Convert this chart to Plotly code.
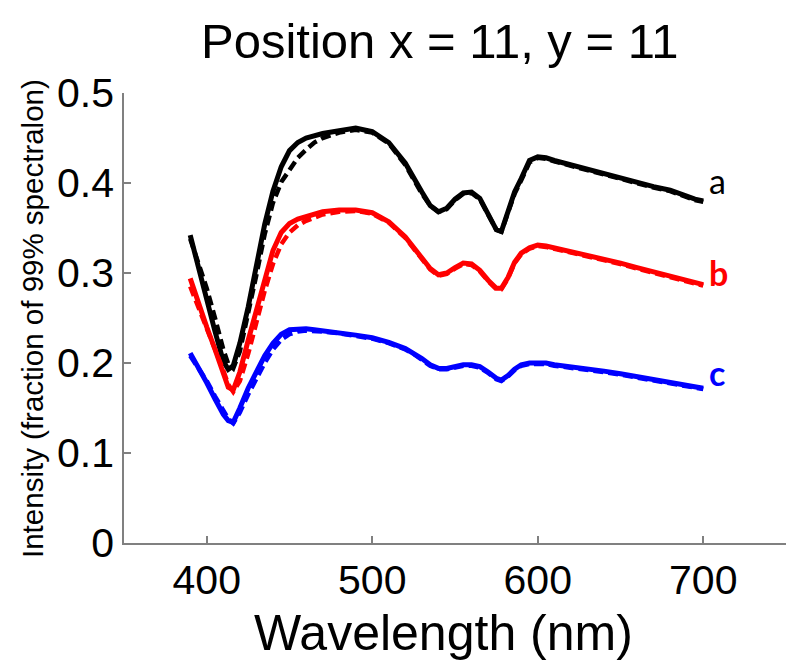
import plotly.graph_objects as go

wavelength = [390, 395, 400, 405, 410, 413, 416, 420, 425, 430, 435, 440, 445, 450, 455, 460,
              465, 470, 480, 490, 500, 510, 520, 525, 530, 535, 540, 545, 550, 555, 560, 565,
              570, 575, 578, 582, 586, 590, 595, 600, 605, 610, 620, 630, 640, 650, 660, 670,
              680, 690, 695, 700]

a_solid = [0.342, 0.305, 0.270, 0.235, 0.202, 0.193, 0.197, 0.222, 0.262, 0.308, 0.354, 0.391,
           0.418, 0.436, 0.445, 0.450, 0.453, 0.455, 0.458, 0.461, 0.457, 0.445, 0.422, 0.405,
           0.390, 0.375, 0.368, 0.372, 0.382, 0.389, 0.390, 0.383, 0.365, 0.348, 0.346, 0.370,
           0.390, 0.405, 0.425, 0.429, 0.428, 0.425, 0.420, 0.415, 0.410, 0.405, 0.401, 0.396,
           0.392, 0.385, 0.382, 0.380]
a_dashed = [0.338, 0.310, 0.283, 0.250, 0.215, 0.199, 0.194, 0.213, 0.253, 0.298, 0.343, 0.378,
            0.401, 0.415, 0.428, 0.437, 0.445, 0.450, 0.456, 0.459, 0.456, 0.444, 0.420, 0.404,
            0.388, 0.375, 0.368, 0.371, 0.381, 0.388, 0.389, 0.382, 0.364, 0.348, 0.346, 0.368,
            0.388, 0.403, 0.423, 0.428, 0.427, 0.424, 0.419, 0.414, 0.409, 0.404, 0.400, 0.395,
            0.391, 0.384, 0.381, 0.379]

b_solid = [0.294, 0.265, 0.240, 0.215, 0.186, 0.173, 0.170, 0.190, 0.225, 0.260, 0.295, 0.325,
           0.345, 0.355, 0.360, 0.363, 0.366, 0.368, 0.370, 0.370, 0.367, 0.357, 0.340, 0.328,
           0.316, 0.305, 0.298, 0.300, 0.306, 0.311, 0.310, 0.303, 0.292, 0.283, 0.283, 0.295,
           0.312, 0.322, 0.328, 0.331, 0.330, 0.328, 0.324, 0.320, 0.315, 0.311, 0.306, 0.301,
           0.297, 0.292, 0.289, 0.287]
b_dashed = [0.285, 0.262, 0.240, 0.218, 0.192, 0.176, 0.168, 0.180, 0.210, 0.245, 0.280, 0.310,
            0.332, 0.345, 0.353, 0.358, 0.362, 0.365, 0.368, 0.369, 0.366, 0.356, 0.339, 0.327,
            0.315, 0.304, 0.297, 0.299, 0.305, 0.310, 0.309, 0.302, 0.291, 0.282, 0.282, 0.294,
            0.311, 0.321, 0.327, 0.330, 0.329, 0.327, 0.323, 0.319, 0.314, 0.310, 0.305, 0.300,
            0.296, 0.291, 0.288, 0.286]

c_solid = [0.211, 0.195, 0.178, 0.160, 0.143, 0.136, 0.134, 0.150, 0.172, 0.190, 0.208, 0.222,
           0.232, 0.237, 0.238, 0.238, 0.237, 0.236, 0.234, 0.231, 0.228, 0.223, 0.216, 0.211,
           0.205, 0.198, 0.194, 0.194, 0.196, 0.198, 0.198, 0.196, 0.190, 0.183, 0.181, 0.186,
           0.193, 0.198, 0.200, 0.200, 0.200, 0.198, 0.196, 0.194, 0.191, 0.188, 0.185, 0.182,
           0.179, 0.175, 0.174, 0.172]
c_dashed = [0.208, 0.195, 0.180, 0.163, 0.146, 0.138, 0.133, 0.145, 0.165, 0.183, 0.200, 0.215,
            0.226, 0.232, 0.235, 0.236, 0.236, 0.235, 0.233, 0.230, 0.227, 0.222, 0.215, 0.210,
            0.204, 0.197, 0.193, 0.193, 0.195, 0.197, 0.197, 0.195, 0.189, 0.182, 0.180, 0.185,
            0.192, 0.197, 0.199, 0.199, 0.199, 0.197, 0.195, 0.193, 0.190, 0.187, 0.184, 0.181,
            0.178, 0.174, 0.173, 0.171]

labels = ["a", "b", "c"]
label_y = [0.403, 0.301, 0.190]
colors = ["#000000", "#ff0000", "#0000ff"]

fig = go.Figure()
series = [(a_solid, a_dashed), (b_solid, b_dashed), (c_solid, c_dashed)]
for (s, d), col in zip(series, colors):
    fig.add_trace(go.Scatter(x=wavelength, y=s, mode="lines",
                             line=dict(color=col, width=5), showlegend=False))
    fig.add_trace(go.Scatter(x=wavelength, y=d, mode="lines",
                             line=dict(color=col, width=4.5, dash="10px,5px"), showlegend=False))

for lab, ly, col in zip(labels, label_y, colors):
    fig.add_annotation(x=702, y=ly, xref="x", yref="y", text=lab, showarrow=False,
                       xanchor="left", yanchor="middle",
                       font=dict(family="Lato", size=34, color=col,
                                 weight="normal" if lab == "a" else "bold"))

fig.add_annotation(x=0.477, y=1.1156, xref="paper", yref="paper",
                   text="Position x = 11, y = 11", showarrow=False,
                   xanchor="center", yanchor="middle",
                   font=dict(family="Liberation Sans", size=49, color="#000000"))
fig.add_annotation(x=0.483, y=-0.200, xref="paper", yref="paper",
                   text="Wavelength (nm)", showarrow=False,
                   xanchor="center", yanchor="middle",
                   font=dict(family="Liberation Sans", size=50, color="#000000"))
fig.add_annotation(x=-0.139, y=0.5, xref="paper", yref="paper",
                   text="Intensity (fraction of 99% spectralon)", showarrow=False,
                   textangle=-90, xanchor="center", yanchor="middle",
                   font=dict(family="Liberation Sans", size=29.5, color="#000000"))

axis_common = dict(showgrid=False, zeroline=False, showline=True, linecolor="#808080",
                   linewidth=1.5, ticks="inside", ticklen=7, tickcolor="#808080", tickwidth=1.5,
                   tickfont=dict(family="Liberation Sans", size=41, color="#000000"),
                   mirror=False, automargin=False)
fig.update_xaxes(range=[350, 750], tickvals=[400, 500, 600, 700], **axis_common)
fig.update_yaxes(range=[0, 0.5], tickvals=[0, 0.1, 0.2, 0.3, 0.4, 0.5],
                 ticktext=["0", "0.1", "0.2", "0.3", "0.4", "0.5"], **axis_common)

# the page body has an 8px default margin, so the figure is shifted by 8px
fig.update_layout(width=800, height=664, margin=dict(l=116, r=22, t=85, b=129),
                  paper_bgcolor="white", plot_bgcolor="white")

fig.write_html("out.html")
